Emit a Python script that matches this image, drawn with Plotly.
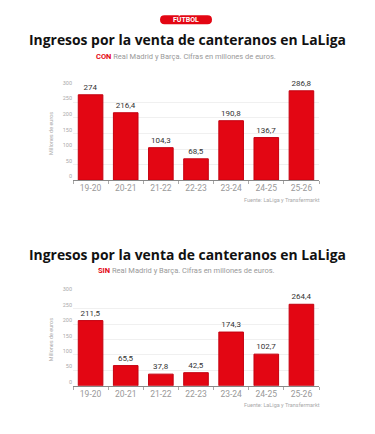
import plotly.graph_objects as go

categories = ["19-20", "20-21", "21-22", "22-23", "23-24", "24-25", "25-26"]
con_values = [274, 216.4, 104.3, 68.5, 190.8, 136.7, 286.8]
sin_values = [211.5, 65.5, 37.8, 42.5, 174.3, 102.7, 264.4]
y_ticks = [0, 50, 100, 150, 200, 250, 300]

title_text = "Ingresos por la venta de canteranos en LaLiga"
sub_con = "<b><span style='color:#e30613'>CON</span></b> Real Madrid y Barça. Cifras en millones de euros."
sub_sin = "<b><span style='color:#e30613'>SIN</span></b> Real Madrid y Barça. Cifras en millones de euros."
source = "Fuente: LaLiga y Transfermarkt"

W, H = 375, 434
def py(v):
    return 1 - v / H
def px(v):
    return v / W

RED = "#e30613"
fmt = lambda v: (f"{v:g}").replace(".", ",")

fig = go.Figure()
for vals, xa, ya in [(con_values, "x", "y"), (sin_values, "x2", "y2")]:
    fig.add_trace(go.Bar(
        x=categories, y=vals, xaxis=xa, yaxis=ya,
        marker=dict(color=RED, line=dict(color="#c40010", width=1)),
        text=[fmt(v) for v in vals], textposition="outside",
        textfont=dict(size=8, color="#333", family="Roboto"),
        cliponaxis=False, showlegend=False, hoverinfo="skip",
    ))

xcommon = dict(
    type="category", range=[-0.5, 6.5], showgrid=False,
    showline=True, linecolor="#888", linewidth=1,
    ticks="outside", tickson="boundaries", ticklen=3, tickcolor="#aaa",
    tickfont=dict(size=8.5, color="#999", family="Roboto"),
    domain=[px(73), px(319)], fixedrange=True,
)
ycommon = dict(
    range=[0, 300], tickvals=y_ticks, showgrid=True, gridcolor="#f0f0f0",
    gridwidth=1, zeroline=False, showline=False, ticks="",
    ticklabelposition="outside top",
    tickfont=dict(size=5.5, color="#aaa", family="Roboto"),
    title=dict(text="Millones de euros", font=dict(size=5.5, color="#aaa", family="Roboto"), standoff=8),
    fixedrange=True,
)

fig.update_layout(
    width=W, height=H, margin=dict(l=0, r=0, t=0, b=0),
    paper_bgcolor="white", plot_bgcolor="white",
    bargap=0.3,
    xaxis=dict(**xcommon, anchor="y"),
    yaxis=dict(**ycommon, domain=[py(176), py(81)], anchor="x"),
    xaxis2=dict(**xcommon, anchor="y2"),
    yaxis2=dict(**ycommon, domain=[py(385), py(291)], anchor="x2"),
)

# badge (rounded pill, pixel coords -> paper)
x0, x1, y0, y1 = 160, 212, 8.5, 17.5
r = (y1 - y0) / 2
path = (f"M {px(x0 + r)},{py(y0)} L {px(x1 - r)},{py(y0)} "
        f"Q {px(x1)},{py(y0)} {px(x1)},{py(y0 + r)} Q {px(x1)},{py(y1)} {px(x1 - r)},{py(y1)} "
        f"L {px(x0 + r)},{py(y1)} Q {px(x0)},{py(y1)} {px(x0)},{py(y0 + r)} "
        f"Q {px(x0)},{py(y0)} {px(x0 + r)},{py(y0)} Z")
fig.add_shape(type="path", xref="paper", yref="paper", path=path,
              fillcolor=RED, line=dict(width=0), layer="below")
fig.add_annotation(text="<b>FÚTBOL</b>", xref="paper", yref="paper", x=px(186), y=py(13),
                   showarrow=False, font=dict(size=7, color="white", family="Roboto"),
                   xanchor="center", yanchor="middle")

for ty, sy, sub, srcy in [(33, 50, sub_con, 196), (252, 268, sub_sin, 405)]:
    fig.add_annotation(text=f"<b>{title_text}</b>", xref="paper", yref="paper",
                       x=px(187), y=py(ty), showarrow=False, xanchor="center", yanchor="middle",
                       font=dict(size=13.9, color="#111", family="Open Sans"))
    fig.add_annotation(text=sub, xref="paper", yref="paper",
                       x=px(186), y=py(sy), showarrow=False, xanchor="center", yanchor="middle",
                       font=dict(size=7.5, color="#999", family="Roboto"))
    fig.add_annotation(text=source, xref="paper", yref="paper",
                       x=px(322), y=py(srcy), showarrow=False, xanchor="right", yanchor="middle",
                       font=dict(size=5.5, color="#aaa", family="Roboto"))

fig.write_html("out.html", config={"displayModeBar": False},
               post_script="document.body.style.margin='0';document.body.style.overflow='hidden';")
